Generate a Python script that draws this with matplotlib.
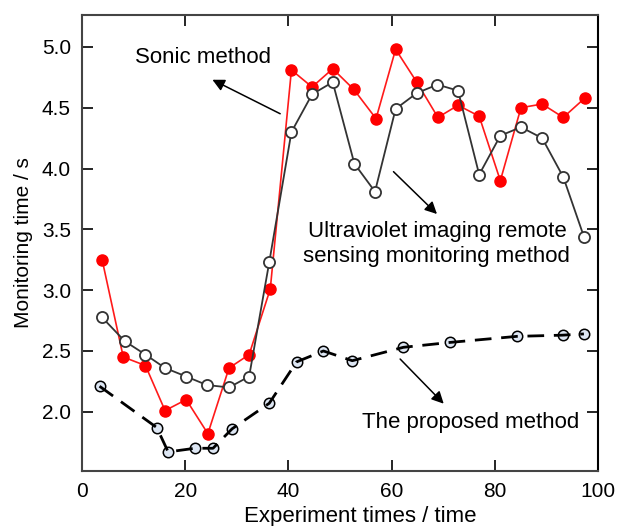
import matplotlib
matplotlib.use('Agg')
import matplotlib.pyplot as plt

plt.rcParams['font.family'] = ['Liberation Sans', 'DejaVu Sans']

# ---- data ----
sonic_x = [3.9, 8.0, 12.3, 16.1, 20.2, 24.4, 28.5, 32.4, 36.5, 40.6, 44.6, 48.6,
           52.7, 57.0, 60.8, 64.9, 69.0, 72.9, 77.0, 81.1, 85.1, 89.2, 93.3, 97.5]
sonic_y = [3.25, 2.45, 2.38, 2.01, 2.10, 1.82, 2.36, 2.47, 3.01, 4.81, 4.67, 4.82,
           4.65, 4.41, 4.98, 4.71, 4.42, 4.52, 4.43, 3.90, 4.50, 4.53, 4.42, 4.58]

uv_x = [3.8, 8.3, 12.3, 16.1, 20.2, 24.2, 28.5, 32.4, 36.3, 40.6, 44.6, 48.6,
        52.8, 56.8, 60.8, 64.9, 68.9, 72.9, 77.0, 81.1, 85.1, 89.2, 93.3, 97.3]
uv_y = [2.78, 2.58, 2.47, 2.36, 2.29, 2.22, 2.20, 2.29, 3.23, 4.30, 4.61, 4.71,
        4.04, 3.81, 4.49, 4.62, 4.69, 4.64, 3.95, 4.27, 4.34, 4.25, 3.93, 3.44]

prop_x = [3.4, 14.5, 16.7, 21.9, 25.4, 29.1, 36.3, 41.6, 46.8, 52.4,
          62.3, 71.3, 84.3, 93.2, 97.3]
prop_y = [2.21, 1.87, 1.67, 1.70, 1.70, 1.86, 2.07, 2.41, 2.50, 2.42,
          2.53, 2.57, 2.62, 2.63, 2.64]

x_ticks = [0, 20, 40, 60, 80, 100]
y_ticks = [2.0, 2.5, 3.0, 3.5, 4.0, 4.5, 5.0]

fig = plt.figure(figsize=(6.26, 5.26), dpi=100)
ax = fig.add_axes([0.131, 0.105, 0.824, 0.866])

# Sonic method
ax.plot(sonic_x, sonic_y, color='#ff1a1a', lw=1.2, marker='o', ms=8,
        markerfacecolor='#ff0000', markeredgecolor='#ff0000', zorder=2)
# Ultraviolet method
ax.plot(uv_x, uv_y, color='#333333', lw=1.3, marker='o', ms=8,
        markerfacecolor='white', markeredgecolor='#333333', markeredgewidth=1.3, zorder=3)
# Proposed method: markers below, dashed line on top
ax.plot(prop_x, prop_y, ls='none', marker='o', ms=7.5,
        markerfacecolor='#dde6f3', markeredgecolor='black', markeredgewidth=1.1, zorder=4)
ax.plot(prop_x, prop_y, color='black', lw=2, dashes=[6, 3.5], zorder=5)

ax.set_xlim(0, 100)
ax.set_ylim(1.515, 5.26)
ax.set_xticks(x_ticks)
ax.set_xticklabels([str(v) for v in x_ticks])
ax.set_yticks(y_ticks)
ax.set_yticklabels([f'{v:.1f}' for v in y_ticks])
ax.tick_params(direction='in', length=8, width=1.2, labelsize=15,
               top=True, right=True, pad=8)
for s in ax.spines.values():
    s.set_color('#444444')
    s.set_linewidth(1.5)
ax.spines['right'].set_color('black')

ax.set_xlabel('Experiment times / time', fontsize=16, labelpad=0)
ax.xaxis.set_label_coords(0.54, -0.078)
ax.set_ylabel('Monitoring time / s', fontsize=15, labelpad=6)

arrow = dict(arrowstyle='-|>', color='black', lw=1.1, mutation_scale=18)
ax.text(23.4, 4.915, 'Sonic method', fontsize=16, ha='center', va='center')
ax.annotate('', xy=(24.8, 4.74), xytext=(38.9, 4.44), arrowprops=arrow)

ax.text(68.8, 3.38, 'Ultraviolet imaging remote\nsensing monitoring method',
        fontsize=16, ha='center', va='center', linespacing=1.2)
ax.annotate('', xy=(69.2, 3.61), xytext=(60.0, 3.99), arrowprops=arrow)

ax.text(75.4, 1.91, 'The proposed method', fontsize=16, ha='center', va='center')
ax.annotate('', xy=(70.5, 2.05), xytext=(61.3, 2.45), arrowprops=arrow)

fig.savefig('out.png', dpi=100)
